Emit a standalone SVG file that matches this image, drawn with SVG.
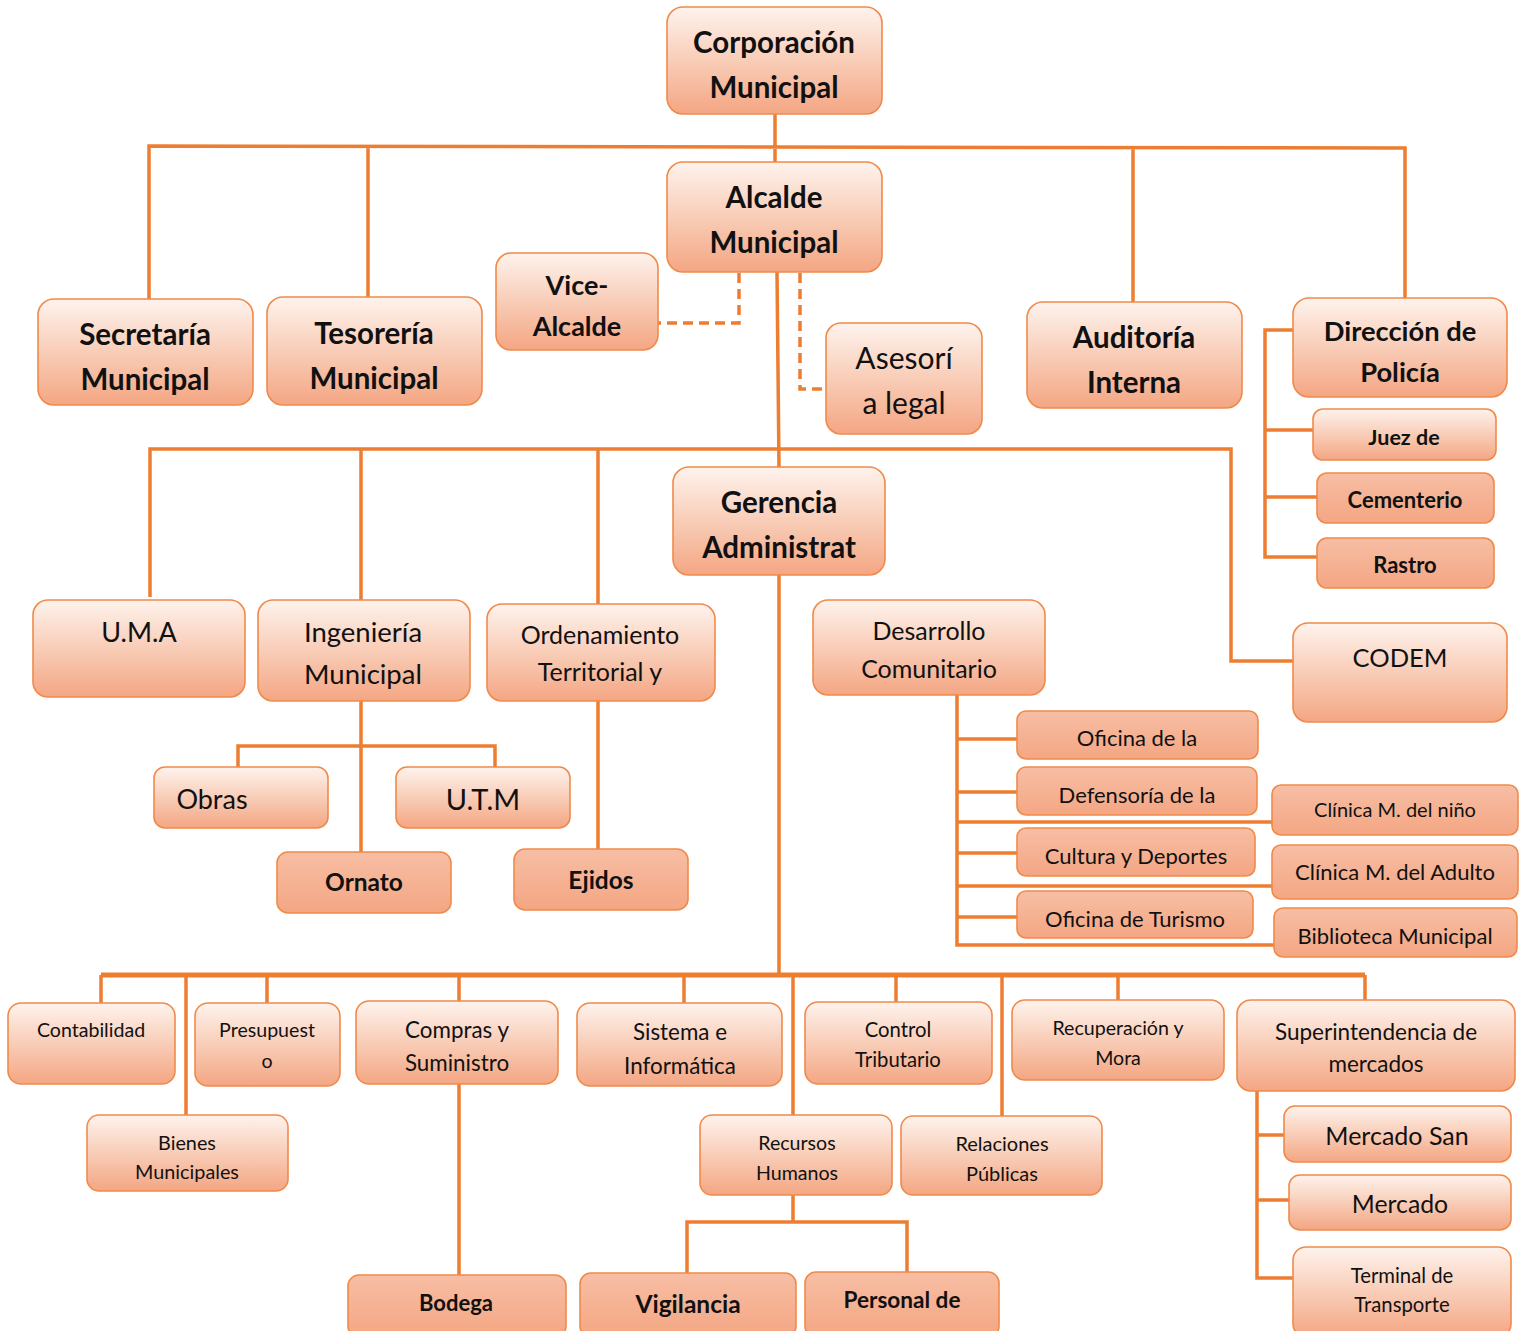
<svg xmlns="http://www.w3.org/2000/svg" width="1527" height="1331" viewBox="0 0 1527 1331">
<defs>
<linearGradient id="gr" x1="0" y1="0" x2="0" y2="1">
<stop offset="0" stop-color="#fef3ed"/>
<stop offset="0.55" stop-color="#f8c9b2"/>
<stop offset="1" stop-color="#f4a683"/>
</linearGradient>
<linearGradient id="sd" x1="0" y1="0" x2="0" y2="1">
<stop offset="0" stop-color="#f7bea4"/>
<stop offset="1" stop-color="#f4a683"/>
</linearGradient>
</defs>
<style>
.g{fill:url(#gr);stroke:#f08a4a;stroke-width:1.6}
.s{fill:url(#sd);stroke:#f08a4a;stroke-width:1.6}
text{font-family:Lato,"Open Sans","Liberation Sans",sans-serif;fill:#111;text-anchor:middle}
.b{font-weight:bold}
.ln{fill:none;stroke:#ed7d31;stroke-width:3.5;stroke-linejoin:miter}
.dsh{fill:none;stroke:#ed7d31;stroke-width:3.5;stroke-dasharray:10 6}
</style>
<rect width="1527" height="1331" fill="#fff"/>
<g id="connectors">
<path class="ln" d="M775 114V162M149 299V146L1405 148V298M368 146V297M1133 147V302"/>
<path class="ln" d="M777 272L779 467M150 597V449H1231V661H1293M361 449V600M598 449V604"/>
<path class="dsh" d="M739 273V323H658M800 273V389H826"/>
<path class="ln" d="M1293 330H1265V557H1317M1265 430H1313M1265 497H1317"/>
<path class="ln" d="M361 701V852M238 767V746H495V767M598 701V849"/>
<path class="ln" d="M957 695V945H1274M957 739H1017M957 792H1017M957 822H1272M957 853H1017M957 886H1272M957 917H1017"/>
<path class="ln" d="M779 575V975"/>
<path class="ln" style="stroke-width:5" d="M101 975H1365"/>
<path class="ln" d="M101 975V1003M186 975V1115M267 975V1003M459 975V1001M684 975V1003M793 975V1115M896 975V1002M1002 975V1116M1118 975V1000M1365 975V1000"/>
<path class="ln" d="M459 1084V1275M793 1195V1222M687 1273V1222H907V1272"/>
<path class="ln" d="M1257 1091V1278H1293M1257 1135H1284M1257 1200H1289"/>
</g>
<g id="corporacion"><rect class="g" x="667" y="7" width="215" height="107" rx="16"/><text class="b" x="774" y="53" font-size="29.5">Corporación</text><text class="b" x="774" y="98" font-size="29.5">Municipal</text></g>
<g id="alcalde"><rect class="g" x="667" y="162" width="215" height="110" rx="16"/><text class="b" x="774" y="208" font-size="29.5">Alcalde</text><text class="b" x="774" y="253" font-size="29.5">Municipal</text></g>
<g id="vicealcalde"><rect class="g" x="496" y="253" width="162" height="97" rx="15"/><text class="b" x="577" y="295" font-size="27">Vice-</text><text class="b" x="577" y="336" font-size="27">Alcalde</text></g>
<g id="asesoria"><rect class="g" x="826" y="323" width="156" height="111" rx="15"/><text x="904" y="369" font-size="30">Asesorí</text><text x="904" y="414" font-size="30">a legal</text></g>
<g id="secretaria"><rect class="g" x="38" y="299" width="215" height="106" rx="16"/><text class="b" x="145" y="345" font-size="29.5">Secretaría</text><text class="b" x="145" y="390" font-size="29.5">Municipal</text></g>
<g id="tesoreria"><rect class="g" x="267" y="297" width="215" height="108" rx="16"/><text class="b" x="374" y="344" font-size="29.5">Tesorería</text><text class="b" x="374" y="389" font-size="29.5">Municipal</text></g>
<g id="auditoria"><rect class="g" x="1027" y="302" width="215" height="106" rx="16"/><text class="b" x="1134" y="348" font-size="29.5">Auditoría</text><text class="b" x="1134" y="393" font-size="29.5">Interna</text></g>
<g id="policia"><rect class="g" x="1293" y="298" width="214" height="99" rx="16"/><text class="b" x="1400" y="341" font-size="27.3">Dirección de</text><text class="b" x="1400" y="382" font-size="27.3">Policía</text></g>
<g id="juez"><rect class="g" x="1313" y="409" width="183" height="51" rx="10"/><text class="b" x="1404" y="445" font-size="21.5">Juez de</text></g>
<g id="cementerio"><rect class="s" x="1317" y="473" width="177" height="50" rx="10"/><text class="b" x="1405" y="508" font-size="22">Cementerio</text></g>
<g id="rastro"><rect class="s" x="1317" y="538" width="177" height="50" rx="10"/><text class="b" x="1405" y="573" font-size="22">Rastro</text></g>
<g id="gerencia"><rect class="g" x="673" y="467" width="212" height="108" rx="16"/><text class="b" x="779" y="513" font-size="29.5">Gerencia</text><text class="b" x="779" y="558" font-size="29.5">Administrat</text></g>
<g id="uma"><rect class="g" x="33" y="600" width="212" height="97" rx="15"/><text x="139" y="642" font-size="27">U.M.A</text></g>
<g id="ingenieria"><rect class="g" x="258" y="600" width="212" height="101" rx="15"/><text x="363" y="642" font-size="27.5">Ingeniería</text><text x="363" y="684" font-size="27.5">Municipal</text></g>
<g id="ordenamiento"><rect class="g" x="487" y="604" width="228" height="97" rx="15"/><text x="600" y="644" font-size="25">Ordenamiento</text><text x="600" y="681" font-size="25">Territorial y</text></g>
<g id="desarrollo"><rect class="g" x="813" y="600" width="232" height="95" rx="15"/><text x="929" y="640" font-size="25">Desarrollo</text><text x="929" y="678" font-size="25">Comunitario</text></g>
<g id="codem"><rect class="g" x="1293" y="623" width="214" height="99" rx="15"/><text x="1400" y="667" font-size="25.5">CODEM</text></g>
<g id="obras"><rect class="g" x="154" y="767" width="174" height="61" rx="11"/><text x="212" y="809" font-size="27">Obras</text></g>
<g id="utm"><rect class="g" x="396" y="767" width="174" height="61" rx="11"/><text x="483" y="810" font-size="29">U.T.M</text></g>
<g id="ornato"><rect class="s" x="277" y="852" width="174" height="61" rx="11"/><text class="b" x="364" y="891" font-size="24.5">Ornato</text></g>
<g id="ejidos"><rect class="s" x="514" y="849" width="174" height="61" rx="11"/><text class="b" x="601" y="889" font-size="24.5">Ejidos</text></g>
<g id="oficinamujer"><rect class="s" x="1017" y="711" width="241" height="48" rx="9"/><text x="1137" y="746" font-size="22">Oficina de la</text></g>
<g id="defensoria"><rect class="s" x="1017" y="767" width="240" height="48" rx="9"/><text x="1137" y="803" font-size="22">Defensoría de la</text></g>
<g id="cultura"><rect class="s" x="1017" y="828" width="238" height="48" rx="9"/><text x="1136" y="864" font-size="22">Cultura y Deportes</text></g>
<g id="turismo"><rect class="s" x="1017" y="891" width="236" height="47" rx="9"/><text x="1135" y="927" font-size="22">Oficina de Turismo</text></g>
<g id="clinicanino"><rect class="s" x="1272" y="785" width="246" height="50" rx="9"/><text x="1395" y="817" font-size="20">Clínica M. del niño</text></g>
<g id="clinicaadulto"><rect class="s" x="1272" y="845" width="246" height="54" rx="9"/><text x="1395" y="880" font-size="22">Clínica M. del Adulto</text></g>
<g id="biblioteca"><rect class="s" x="1274" y="908" width="243" height="49" rx="9"/><text x="1395" y="944" font-size="22">Biblioteca Municipal</text></g>
<g id="contabilidad"><rect class="g" x="8" y="1003" width="167" height="81" rx="13"/><text x="91" y="1037" font-size="19.6">Contabilidad</text></g>
<g id="presupuesto"><rect class="g" x="195" y="1003" width="145" height="83" rx="13"/><text x="267" y="1037" font-size="19.6">Presupuest</text><text x="267" y="1068" font-size="19.6">o</text></g>
<g id="compras"><rect class="g" x="356" y="1001" width="202" height="83" rx="13"/><text x="457" y="1038" font-size="22.4">Compras y</text><text x="457" y="1071" font-size="22.4">Suministro</text></g>
<g id="sistema"><rect class="g" x="577" y="1003" width="205" height="83" rx="13"/><text x="680" y="1040" font-size="22.4">Sistema e</text><text x="680" y="1074" font-size="22.4">Informática</text></g>
<g id="control"><rect class="g" x="805" y="1002" width="187" height="82" rx="13"/><text x="898" y="1037" font-size="20.3">Control</text><text x="898" y="1067" font-size="20.3">Tributario</text></g>
<g id="recuperacion"><rect class="g" x="1012" y="1000" width="212" height="80" rx="13"/><text x="1118" y="1035" font-size="19.6">Recuperación y</text><text x="1118" y="1065" font-size="19.6">Mora</text></g>
<g id="superintendencia"><rect class="g" x="1237" y="1000" width="278" height="91" rx="14"/><text x="1376" y="1040" font-size="22.5">Superintendencia de</text><text x="1376" y="1072" font-size="22.5">mercados</text></g>
<g id="bienes"><rect class="g" x="87" y="1115" width="201" height="76" rx="12"/><text x="187" y="1150" font-size="19.8">Bienes</text><text x="187" y="1179" font-size="19.8">Municipales</text></g>
<g id="recursos"><rect class="g" x="700" y="1115" width="192" height="80" rx="12"/><text x="797" y="1150" font-size="19.6">Recursos</text><text x="797" y="1180" font-size="19.6">Humanos</text></g>
<g id="relaciones"><rect class="g" x="901" y="1116" width="201" height="79" rx="12"/><text x="1002" y="1151" font-size="20">Relaciones</text><text x="1002" y="1181" font-size="20">Públicas</text></g>
<g id="mercadosan"><rect class="g" x="1284" y="1106" width="227" height="56" rx="11"/><text x="1397" y="1145" font-size="25">Mercado San</text></g>
<g id="mercado"><rect class="g" x="1289" y="1175" width="222" height="55" rx="11"/><text x="1400" y="1213" font-size="24.8">Mercado</text></g>
<g id="terminal"><rect class="g" x="1293" y="1247" width="218" height="90" rx="13"/><text x="1402" y="1283" font-size="20.3">Terminal de</text><text x="1402" y="1312" font-size="20.3">Transporte</text></g>
<g id="bodega"><rect class="s" x="348" y="1275" width="218" height="62" rx="11"/><text class="b" x="456" y="1311" font-size="22">Bodega</text></g>
<g id="vigilancia"><rect class="s" x="580" y="1273" width="216" height="64" rx="11"/><text class="b" x="688" y="1313" font-size="24.5">Vigilancia</text></g>
<g id="personal"><rect class="s" x="805" y="1272" width="194" height="65" rx="11"/><text class="b" x="902" y="1308" font-size="22.6">Personal de</text></g>
</svg>
